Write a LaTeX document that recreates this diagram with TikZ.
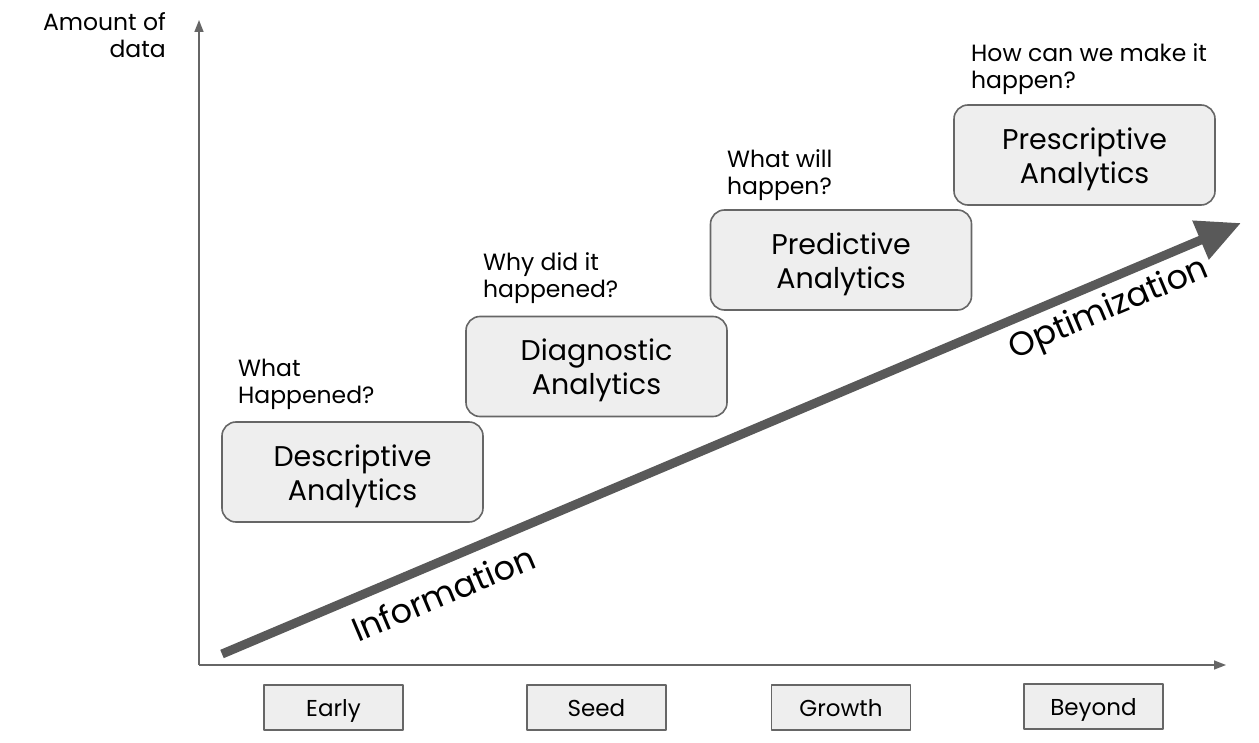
\documentclass[tikz,border=0pt]{standalone}
\usepackage{fontspec}
\setmainfont{Poppins}
\usetikzlibrary{arrows.meta}
\definecolor{boxfill}{HTML}{EEEEEE}
\definecolor{boxline}{HTML}{666666}
\definecolor{arrowgray}{HTML}{595959}
\tikzset{
  stagebox/.style={draw=boxline, line width=1.6pt, fill=boxfill, rounded corners=14pt,
    minimum width=261pt, minimum height=100pt, inner sep=0pt},
  stagetext/.style={align=center, inner sep=0pt, font=\fontsize{28.5}{34}\selectfont},
  phasebox/.style={draw=boxline, line width=1.6pt, fill=boxfill, minimum width=139pt,
    minimum height=45pt, inner sep=0pt, text height=18pt, text depth=0pt,
    font=\fontsize{23}{26}\selectfont},
  question/.style={anchor=north west, align=left, inner sep=0pt,
    font=\fontsize{23.5}{27}\selectfont},
  axisline/.style={draw=boxline, line width=1.6pt, -{Triangle[length=12pt,width=9pt]}},
  slanted/.style={rotate=22.9, font=\fontsize{33.5}{36}\selectfont},
}
\begin{document}
\begin{tikzpicture}[x=1pt, y=-1pt, line cap=butt, line join=round]

  %% ════ 坐标轴 ════
  \coordinate (origin) at (199,665);
  \coordinate (ytip) at (199,20);
  \coordinate (xtip) at (1226,665);
  \draw[axisline] (origin) -- (ytip);
  \draw[axisline] (origin) -- (xtip);
  \node[anchor=north east, align=right, inner sep=0pt, font=\fontsize{23.5}{27}\selectfont]
    (ylabel) at (166,12) {Amount of\\data};

  %% ════ 斜向大箭头 ════
  \coordinate (arrstart) at (222,654);
  \coordinate (arrend) at (1241,223);
  \draw[arrowgray, line width=9pt, -{Triangle[length=44pt,width=40pt]}] (arrstart) -- (arrend);
  \node[slanted] (info) at (443,593) {Information};
  \node[slanted] (optim) at (1109,310) {Optimization};

  %% ════ 分析阶段（框 + 文字，文字下移 4）════
  \node[stagebox] (desc) at (352.5,472) {};
  \node[stagebox] (diag) at (596.5,366.5) {};
  \node[stagebox] (pred) at (841,260) {};
  \node[stagebox] (presc) at (1084.5,155) {};
  \node[stagetext] (desctext) at ([yshift=-4pt]desc.center) {Descriptive\\Analytics};
  \node[stagetext] (diagtext) at ([yshift=-4pt]diag.center) {Diagnostic\\Analytics};
  \node[stagetext] (predtext) at ([yshift=-4pt]pred.center) {Predictive\\Analytics};
  \node[stagetext] (presctext) at ([yshift=-4pt]presc.center) {Prescriptive\\Analytics};

  \node[question] (qdesc) at (238,359) {What\\Happened?};
  \node[question] (qdiag) at (483,252) {Why did it\\happened?};
  \node[question] (qpred) at (727,149) {What will\\happen?};
  \node[question] (qpresc) at (971,43) {How can we make it\\happen?};

  %% ════ 横轴上的时期 ════
  \node[phasebox] (early) at (333.5,707.5) {Early};
  \node[phasebox] (seed) at (596.5,707.5) {Seed};
  \node[phasebox] (growth) at (841,707.5) {Growth};
  \node[phasebox] (beyond) at (1093.5,706.5) {Beyond};

  % 固定画布
  \pgfresetboundingbox
  \path[use as bounding box] (0,0) rectangle (1259,743);
\end{tikzpicture}
\end{document}
